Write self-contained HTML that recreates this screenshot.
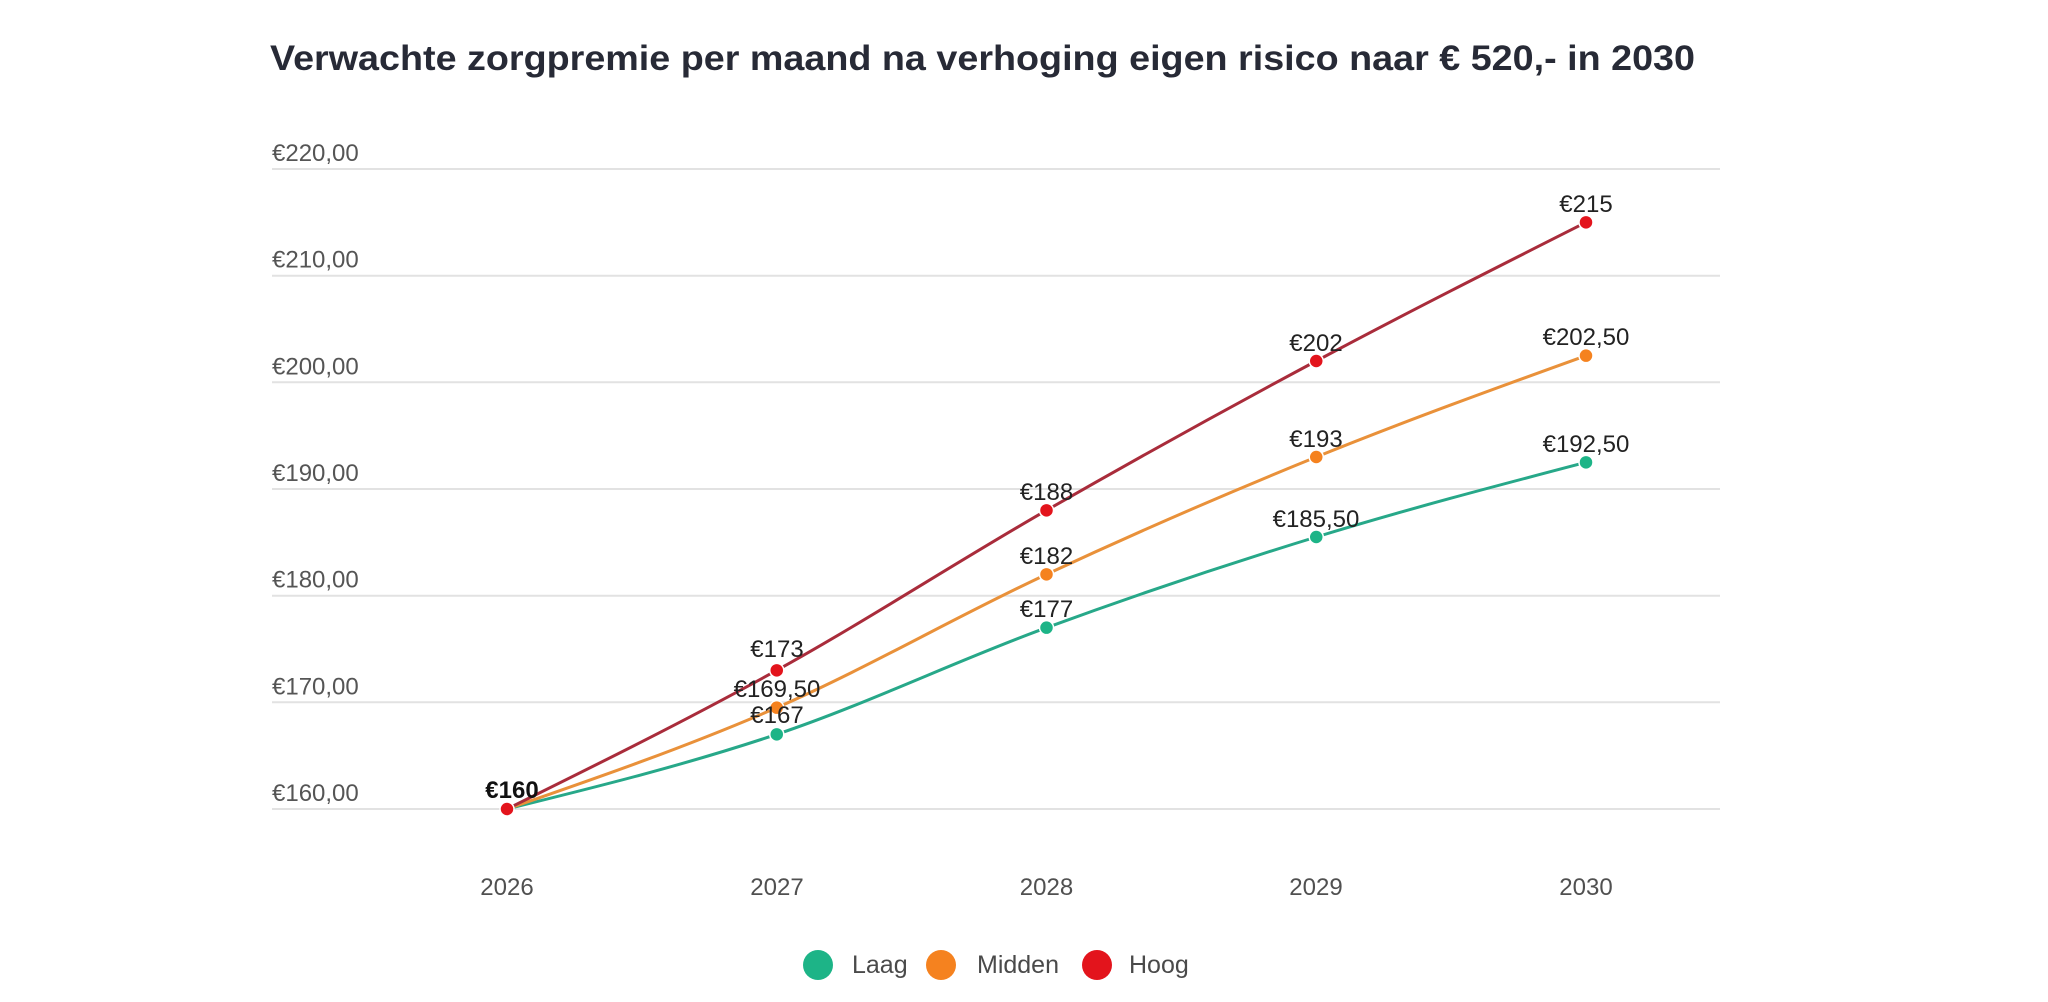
<!DOCTYPE html>
<html>
<head>
<meta charset="utf-8">
<style>
html,body{margin:0;padding:0;background:#fff;}
svg{display:block;}
text{font-family:"Liberation Sans",sans-serif;}
</style>
</head>
<body>
<svg width="2048" height="1002" viewBox="0 0 2048 1002" xmlns="http://www.w3.org/2000/svg">
<rect width="2048" height="1002" fill="#fff"/>
<text x="270" y="70" font-size="35" font-weight="bold" fill="#272a36" textLength="1425" lengthAdjust="spacingAndGlyphs">Verwachte zorgpremie per maand na verhoging eigen risico naar € 520,- in 2030</text>

<g stroke="#e2e2e2" stroke-width="2">
<line x1="272" y1="169" x2="1720" y2="169"/>
<line x1="272" y1="275.7" x2="1720" y2="275.7"/>
<line x1="272" y1="382.3" x2="1720" y2="382.3"/>
<line x1="272" y1="489" x2="1720" y2="489"/>
<line x1="272" y1="595.7" x2="1720" y2="595.7"/>
<line x1="272" y1="702.3" x2="1720" y2="702.3"/>
<line x1="272" y1="809" x2="1720" y2="809"/>
</g>
<g font-size="24" fill="#555">
<text x="272" y="161">€220,00</text>
<text x="272" y="267.7">€210,00</text>
<text x="272" y="374.3">€200,00</text>
<text x="272" y="481">€190,00</text>
<text x="272" y="587.7">€180,00</text>
<text x="272" y="694.3">€170,00</text>
<text x="272" y="801">€160,00</text>
</g>
<g font-size="24" fill="#505050" text-anchor="middle">
<text x="507" y="895">2026</text>
<text x="777" y="895">2027</text>
<text x="1046.5" y="895">2028</text>
<text x="1316" y="895">2029</text>
<text x="1586" y="895">2030</text>
</g>

<g fill="none" stroke-width="3" stroke-linejoin="round" stroke-linecap="round">
<path stroke="#27a889" d="M507,809 C596.92,786.78 686.83,764.56 776.75,734.33 C866.67,704.11 956.58,660.56 1046.5,627.67 C1136.42,594.78 1226.33,564.56 1316.25,537 C1406.17,509.44 1496.08,485.89 1586,462.33"/>
<path stroke="#e9913a" d="M507,809 C596.92,777.89 686.83,746.78 776.75,707.67 C866.67,668.56 956.58,616.11 1046.5,574.33 C1136.42,532.56 1226.33,493.44 1316.25,457 C1406.17,420.56 1496.08,388.11 1586,355.67"/>
<path stroke="#a92c3b" d="M507,809 C596.92,764.56 686.83,720.11 776.75,670.33 C866.67,620.56 956.58,561.89 1046.5,510.33 C1136.42,458.78 1226.33,409 1316.25,361 C1406.17,313 1496.08,267.67 1586,222.33"/>
</g>

<g stroke="#fff" stroke-width="1.5">
<g fill="#1db487">
<circle cx="776.75" cy="734.33" r="7"/>
<circle cx="1046.5" cy="627.67" r="7"/>
<circle cx="1316.25" cy="537" r="7"/>
<circle cx="1586" cy="462.33" r="7"/>
</g>
<g fill="#f5821f">
<circle cx="776.75" cy="707.67" r="7"/>
<circle cx="1046.5" cy="574.33" r="7"/>
<circle cx="1316.25" cy="457" r="7"/>
<circle cx="1586" cy="355.67" r="7"/>
</g>
<g fill="#e3141c">
<circle cx="507" cy="809" r="7"/>
<circle cx="776.75" cy="670.33" r="7"/>
<circle cx="1046.5" cy="510.33" r="7"/>
<circle cx="1316.25" cy="361" r="7"/>
<circle cx="1586" cy="222.33" r="7"/>
</g>
</g>

<g font-size="24" fill="#222" text-anchor="middle">
<text x="512" y="798" font-weight="bold" fill="#111">€160</text>
<text x="777" y="657">€173</text>
<text x="777" y="697">€169,50</text>
<text x="777" y="723">€167</text>
<text x="1046.5" y="500">€188</text>
<text x="1046.5" y="564">€182</text>
<text x="1046.5" y="617">€177</text>
<text x="1316" y="351">€202</text>
<text x="1316" y="447">€193</text>
<text x="1316" y="527">€185,50</text>
<text x="1586" y="212">€215</text>
<text x="1586" y="345">€202,50</text>
<text x="1586" y="452">€192,50</text>
</g>

<circle cx="818" cy="965" r="15" fill="#1db487"/>
<circle cx="941" cy="965" r="15" fill="#f5821f"/>
<circle cx="1097" cy="965" r="15" fill="#e3141c"/>
<g font-size="25" fill="#4a4a4a">
<text x="852" y="973">Laag</text>
<text x="977" y="973">Midden</text>
<text x="1129" y="973">Hoog</text>
</g>
</svg>
</body>
</html>
